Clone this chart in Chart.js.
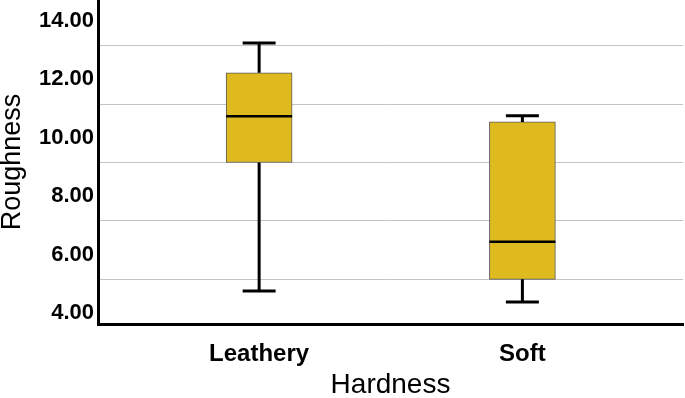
<!DOCTYPE html>
<html>
<head>
<meta charset="utf-8">
<script src="https://cdn.jsdelivr.net/npm/chart.js@4/dist/chart.umd.min.js"></script>
<style>
    html, body { margin: 0; padding: 0; background: #fff; }
</style>
</head>
<body>
<canvas id="chart-roughness" width="685" height="398"></canvas>
<script>
var categories = ['Leathery', 'Soft'];
var whiskerLow = [4.6, 4.22];
var q1 = [9.0, 5.0];
var median = [10.58, 6.29];
var q3 = [12.07, 10.39];
var whiskerHigh = [13.09, 10.6];
var yLabelValues = [4, 6, 8, 10, 12, 14];
var yGridValues = [5, 7, 9, 11, 13];

// whiskers, caps and median line, placed with the chart's own scales
var boxWhiskers = {
    id: 'boxWhiskers',
    afterDatasetsDraw: function (chart) {
        var y = chart.scales.y;
        var ctx = chart.ctx;
        var meta = chart.getDatasetMeta(0);
        ctx.save();
        ctx.strokeStyle = '#000';
        meta.data.forEach(function (bar, i) {
            var cx = bar.x;
            var half = bar.width / 2;
            var capHalf = half / 2;
            var hi = y.getPixelForValue(whiskerHigh[i]);
            var lo = y.getPixelForValue(whiskerLow[i]);
            ctx.lineWidth = 3;
            ctx.beginPath();
            ctx.moveTo(cx, y.getPixelForValue(q3[i]));
            ctx.lineTo(cx, hi);
            ctx.moveTo(cx, y.getPixelForValue(q1[i]));
            ctx.lineTo(cx, lo);
            ctx.moveTo(cx - capHalf, hi);
            ctx.lineTo(cx + capHalf, hi);
            ctx.moveTo(cx - capHalf, lo);
            ctx.lineTo(cx + capHalf, lo);
            ctx.stroke();
            var m = y.getPixelForValue(median[i]);
            ctx.lineWidth = 2.5;
            ctx.beginPath();
            ctx.moveTo(cx - half, m);
            ctx.lineTo(cx + half, m);
            ctx.stroke();
        });
        ctx.restore();
    }
};

function chart() {
    var ctx = document.getElementById('chart-roughness');
    if (ctx) {
        Chart.defaults.font.family = "'Liberation Sans', Arial, sans-serif";
        Chart.defaults.color = '#000';
        new Chart(ctx, {
            type: 'bar',
            data: {
                datasets: [{
                    data: categories.map(function (c, i) { return { x: i + 1, y: [q1[i], q3[i]] }; }),
                    backgroundColor: '#dfba1f',
                    borderColor: '#5a5a5a',
                    borderWidth: 1,
                    borderSkipped: false,
                    barThickness: 66
                }]
            },
            options: {
                responsive: false,
                animation: false,
                devicePixelRatio: 1,
                layout: { padding: { top: 0, right: 2, bottom: 0, left: 0 } },
                plugins: { legend: { display: false }, tooltip: { enabled: false } },
                scales: {
                    x: {
                        type: 'linear',
                        offset: false,
                        min: 0.388,
                        max: 2.61,
                        afterBuildTicks: function (scale) {
                            scale.ticks = categories.map(function (c, i) { return { value: i + 1 }; });
                        },
                        afterFit: function (scale) {
                            scale.height = 74;
                            scale.paddingLeft = 0;
                            scale.paddingRight = 0;
                        },
                        grid: { display: false, offset: false },
                        border: { display: true, color: '#000', width: 3 },
                        ticks: {
                            padding: 8,
                            font: { size: 24, weight: 'bold' },
                            callback: function (v) { return categories[v - 1] || ''; }
                        },
                        title: {
                            display: true,
                            text: 'Hardness',
                            font: { size: 28, lineHeight: 0.88 },
                            padding: 0
                        }
                    },
                    y: {
                        min: 3.47,
                        max: 14.565,
                        afterBuildTicks: function (scale) {
                            scale.ticks = yLabelValues.concat(yGridValues)
                                .sort(function (a, b) { return a - b; })
                                .map(function (v) { return { value: v }; });
                        },
                        afterFit: function (scale) {
                            scale.width = 98;
                            scale.paddingTop = 0;
                            scale.paddingBottom = 0;
                        },
                        grid: {
                            drawTicks: false,
                            color: function (c) {
                                return yGridValues.indexOf(c.tick.value) >= 0 ? '#c4c4c4' : 'rgba(0,0,0,0)';
                            }
                        },
                        border: { display: true, color: '#000', width: 3 },
                        ticks: {
                            padding: 4,
                            font: { size: 22, weight: 'bold', lineHeight: '9px' },
                            callback: function (v) {
                                return yLabelValues.indexOf(v) >= 0 ? ['', v.toFixed(2)] : '';
                            }
                        },
                        title: {
                            display: true,
                            text: 'Roughness',
                            font: { size: 27, lineHeight: 0.95 },
                            padding: 0
                        }
                    }
                }
            },
            plugins: [boxWhiskers]
        });
    }
}

chart();
</script>
</body>
</html>
